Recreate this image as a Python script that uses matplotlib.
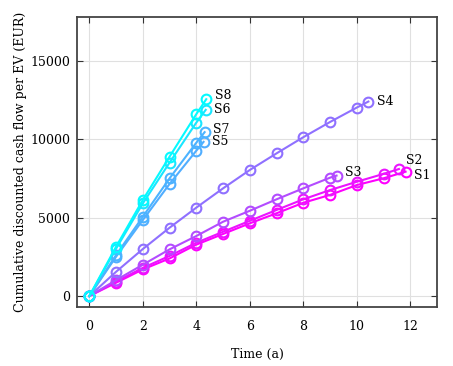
import numpy as np
import matplotlib
matplotlib.use("Agg")
import matplotlib.pyplot as plt

plt.rcParams['font.family'] = ['DejaVu Serif']
plt.rcParams['font.size'] = 9

# cumulative discounted cash flow per EV (EUR)
t_s1 = [0, 1, 2, 3, 4, 5, 6, 7, 8, 9, 10, 11, 11.82]
v_s1 = [0, 850, 1700, 2400, 3280, 3960, 4640, 5280, 5950, 6450, 7080, 7510, 7930]
t_s2 = [0, 1, 2, 3, 4, 5, 6, 7, 8, 9, 10, 11, 11.57]
v_s2 = [0, 920, 1800, 2560, 3400, 4100, 4800, 5490, 6170, 6760, 7290, 7790, 8100]
t_s3 = [0, 1, 2, 3, 4, 5, 6, 7, 8, 9, 9.24]
v_s3 = [0, 1020, 2000, 2980, 3830, 4740, 5440, 6170, 6870, 7550, 7680]
t_s4 = [0, 1, 2, 3, 4, 5, 6, 7, 8, 9, 10, 10.43]
v_s4 = [0, 1550, 3000, 4360, 5640, 6870, 8040, 9100, 10130, 11100, 12020, 12400]
t_s5 = [0, 1, 2, 3, 4, 4.27]
v_s5 = [0, 2510, 4850, 7150, 9270, 9830]
t_s6 = [0, 1, 2, 3, 4, 4.35]
v_s6 = [0, 3020, 5910, 8510, 11060, 11870]
t_s7 = [0, 1, 2, 3, 4, 4.31]
v_s7 = [0, 2620, 5060, 7510, 9780, 10450]
t_s8 = [0, 1, 2, 3, 4, 4.37]
v_s8 = [0, 3150, 6130, 8890, 11600, 12550]

names = ['S1', 'S2', 'S3', 'S4', 'S5', 'S6', 'S7', 'S8']
times = [t_s1, t_s2, t_s3, t_s4, t_s5, t_s6, t_s7, t_s8]
values = [v_s1, v_s2, v_s3, v_s4, v_s5, v_s6, v_s7, v_s8]
cmap_pos = [1.0, 0.92, 0.70, 0.56, 0.32, 0.10, 0.30, 0.02]
# label offsets (points) from each series' last point
label_off = [(6, -3), (5, 6), (6, 2), (6, 0), (6, 0), (6, 0), (6, 2), (6, 3)]

fig = plt.figure(figsize=(4.53, 3.66), dpi=100)
ax = fig.add_axes([0.170, 0.161, 0.795, 0.793])

cmap = plt.get_cmap('cool')
for name, t, v, c, off in zip(names, times, values, cmap_pos, label_off):
    col = cmap(c)
    ax.plot(t, v, '-o', color=col, lw=1.5, ms=7, mfc='none', mew=1.5, zorder=3)
    ax.annotate(name, (t[-1], v[-1]), xytext=off, textcoords='offset points',
                ha='left', va='center', fontsize=9, color='black')

ax.set_xlim(-0.46, 13)
ax.set_ylim(-700, 17800)
ax.set_xticks([0, 2, 4, 6, 8, 10, 12])
ax.set_yticks([0, 5000, 10000, 15000])
ax.grid(True, color='#e0e0e0', lw=0.8, zorder=0)
ax.tick_params(direction='in', top=True, right=True, length=4, color='#333333')
ax.tick_params(axis='x', pad=9)
ax.tick_params(axis='y', pad=5)
for s in ax.spines.values():
    s.set_color('#444444')
    s.set_linewidth(1.3)

ax.set_xlabel('Time (a)', labelpad=11)
ax.set_ylabel('Cumulative discounted cash flow per EV (EUR)', labelpad=2)

fig.savefig('out.png', dpi=100)
